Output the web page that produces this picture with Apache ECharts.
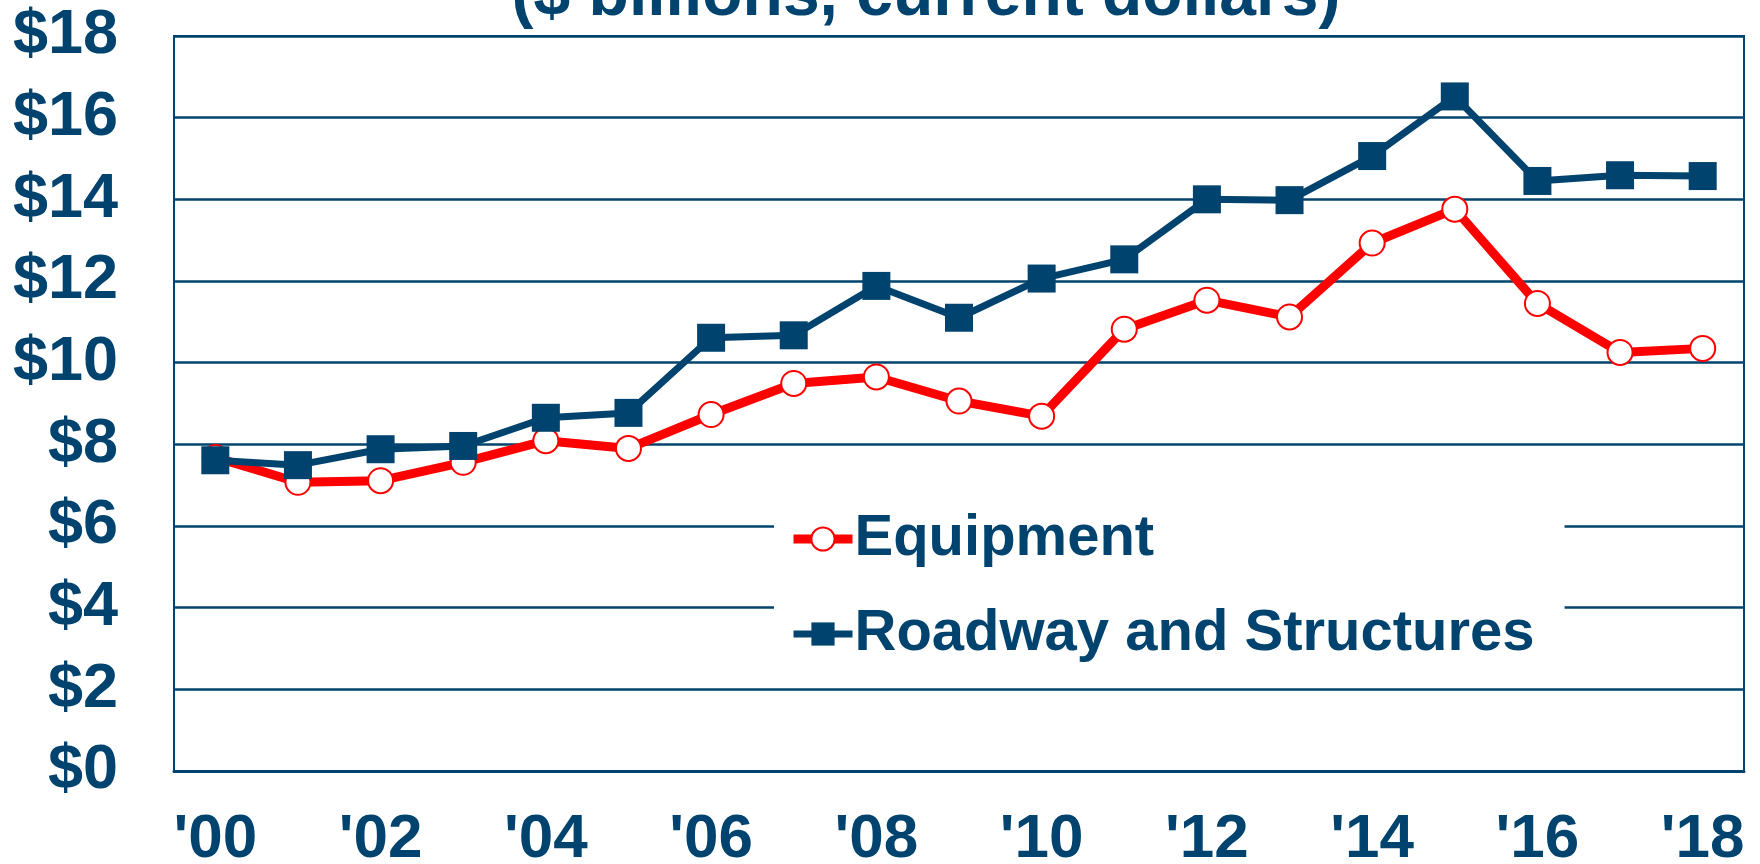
<!DOCTYPE html>
<html>
<head>
<meta charset="utf-8">
<script src="https://cdn.jsdelivr.net/npm/echarts@6/dist/echarts.min.js"></script>
<style>
  html, body { margin: 0; padding: 0; background: #fff; }
  #chart { width: 1760px; height: 864px; }
</style>
</head>
<body>
<div id="chart"></div>
<script>
var years = ["'00", "'01", "'02", "'03", "'04", "'05", "'06", "'07", "'08", "'09",
             "'10", "'11", "'12", "'13", "'14", "'15", "'16", "'17", "'18"];
var equipment = [7.68, 7.07, 7.11, 7.56, 8.09, 7.90, 8.73, 9.49, 9.65, 9.06,
                 8.69, 10.82, 11.53, 11.12, 12.93, 13.76, 11.45, 10.25, 10.35];
var roadway = [7.61, 7.49, 7.88, 7.96, 8.65, 8.77, 10.61, 10.67, 11.88, 11.10,
               12.06, 12.53, 14.00, 13.98, 15.06, 16.52, 14.45, 14.59, 14.57];
var yTicks = { min: 0, max: 18, step: 2 };

var navy = "#00436E";
var red = "#FF0000";
var font = "'Liberation Sans', Arial, sans-serif";

var chart = echarts.init(document.getElementById("chart"));
var option = {
  animation: false,
  backgroundColor: "#fff",
  graphic: [
    {
      type: "text",
      x: 926,
      y: -3,
      style: {
        text: "($ billions, current dollars)",
        font: "bold 66px " + font,
        fill: navy,
        align: "center",
        verticalAlign: "middle"
      }
    }
  ],
  grid: {
    left: 174,
    right: 16,
    top: 36,
    bottom: 93,
    outerBoundsMode: "none",
    containLabel: false,
    show: true,
    borderColor: navy,
    borderWidth: 2
  },
  legend: {
    orient: "vertical",
    left: 774,
    top: 499,
    padding: [10, 30, 10, 15],
    backgroundColor: "#fff",
    itemWidth: 59,
    itemHeight: 29,
    itemGap: 35,
    textStyle: {
      color: navy,
      fontFamily: font,
      fontWeight: "bold",
      fontSize: 58,
      lineHeight: 60,
      padding: [0, 0, 0, -3]
    },
    data: [
      { name: "Equipment", lineStyle: { width: 9 } },
      { name: "Roadway and Structures", lineStyle: { width: 7 } }
    ]
  },
  xAxis: {
    type: "category",
    data: years,
    boundaryGap: true,
    axisLine: { show: true, lineStyle: { color: navy, width: 3 } },
    axisTick: { show: false },
    axisLabel: {
      interval: 1,
      margin: 38,
      color: navy,
      fontFamily: font,
      fontWeight: "bold",
      fontSize: 62
    },
    splitLine: { show: false }
  },
  yAxis: {
    type: "value",
    min: yTicks.min,
    max: yTicks.max,
    interval: yTicks.step,
    axisLine: { show: true, lineStyle: { color: navy, width: 2 } },
    axisTick: { show: false },
    axisLabel: {
      margin: 56,
      color: navy,
      fontFamily: font,
      fontWeight: "bold",
      fontSize: 63,
      formatter: function (v) { return "$" + v; }
    },
    splitLine: { show: true, lineStyle: { color: navy, width: 2.5 } }
  },
  series: [
    {
      name: "Equipment",
      type: "line",
      data: equipment,
      symbol: "circle",
      symbolSize: 25,
      lineStyle: { color: red, width: 9 },
      itemStyle: { color: "#fff", borderColor: red, borderWidth: 2 },
      z: 3
    },
    {
      name: "Roadway and Structures",
      type: "line",
      data: roadway,
      symbol: "rect",
      symbolSize: 28,
      lineStyle: { color: navy, width: 7 },
      itemStyle: { color: navy },
      z: 4
    }
  ]
};
chart.setOption(option);
</script>
</body>
</html>
